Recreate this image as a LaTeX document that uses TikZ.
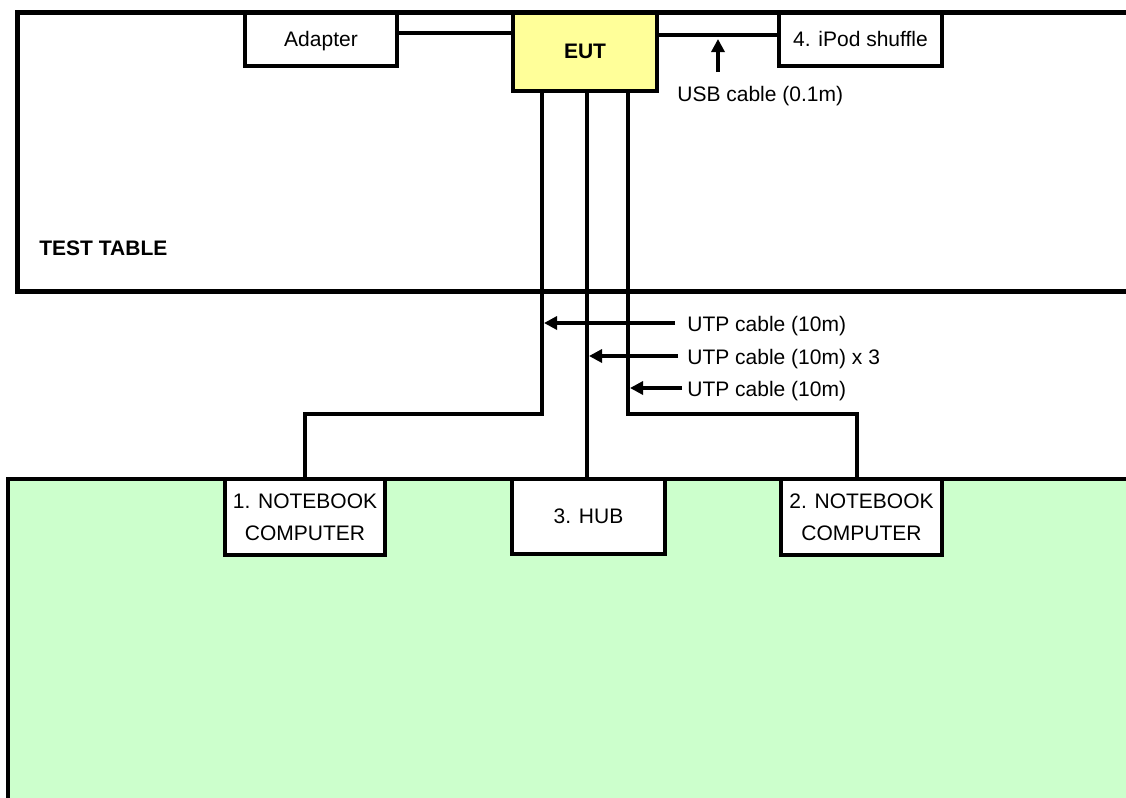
\documentclass[tikz,border=0pt]{standalone}
\usepackage{fontspec}
\setmainfont{Liberation Sans}
\usetikzlibrary{arrows.meta}
\definecolor{eutyellow}{HTML}{FFFF99}
\definecolor{floorgreen}{HTML}{CCFFCC}
\begin{document}
\begin{tikzpicture}[x=0.5pt,y=-0.5pt,
  txt/.style={font=\fontsize{10.5}{16.25}\selectfont},
  box/.style={txt, draw, line width=1.6pt, fill=white, inner sep=0pt, align=center, text depth=0pt},
  lbl/.style={txt, inner sep=0pt, anchor=west},
  wire/.style={line width=1.6pt},
  arr/.style={line width=1.6pt, -{Triangle[length=6.5pt,width=6.5pt]}},
  tableline/.style={line width=2.5pt},
  floorline/.style={line width=2pt}]
\clip (0,0) rectangle (1126,798);
\fill[white] (0,0) rectangle (1126,798);
% test table and floor areas
\fill[white] (17,12) rectangle (1140,291);
\fill[floorgreen] (8,479) rectangle (1140,810);
% equipment on the table
\node[box, minimum width=76pt, minimum height=27pt] (adapter) at (321,39) {Adapter};
\node[box, fill=eutyellow, minimum width=72pt, minimum height=39.5pt, font=\fontsize{10.5}{12}\selectfont\bfseries] (eut) at (585,51.5) {EUT};
\node[box, minimum width=81.5pt, minimum height=27pt] (ipod) at (860.5,39) {4. iPod shuffle};
% equipment on the floor
\node[box, minimum width=80pt, minimum height=38pt] (nb1) at (305,517) {1. NOTEBOOK\\COMPUTER};
\node[box, minimum width=76.5pt, minimum height=37.5pt] (hub) at (588.5,516.5) {3. HUB};
\node[box, minimum width=80.5pt, minimum height=38pt] (nb2) at (861.5,517) {2. NOTEBOOK\\COMPUTER};
% outlines
\draw[tableline] (1140,12) -- (17,12) -- (17,291) -- (1140,291);
\draw[floorline] (1140,479) -- (8,479) -- (8,810);
\node[lbl, font=\fontsize{10.5}{12}\selectfont\bfseries] (tt) at (39,248) {TEST TABLE};
% cables on the table
\coordinate (ya) at (0,33);
\coordinate (yu) at (0,35);
\draw[wire] (adapter.east |- ya) -- (eut.west |- ya);
\draw[wire] (eut.east |- yu) -- (ipod.west |- yu);
\node[lbl] (usb) at (677,96) {USB cable (0.1m)};
\coordinate (usbtail) at (718,72);
\coordinate (usbtip) at (718,39);
\draw[arr] (usbtail) -- (usbtip);
% UTP cables
\coordinate (c1) at (542,91);
\coordinate (c2) at (587,91);
\coordinate (c3) at (628,91);
\coordinate (yb) at (0,414);
\draw[wire] (c1) -- (c1 |- yb) -| (nb1.north);
\draw[wire] (c2) -- (c2 |- hub.north);
\draw[wire] (c3) -- (c3 |- yb) -| (857,479);
% cable labels
\node[lbl] (u1) at (687,326) {UTP cable (10m)};
\node[lbl] (u2) at (687,359) {UTP cable (10m) x 3};
\node[lbl] (u3) at (687,391) {UTP cable (10m)};
\coordinate (a1) at (544,323);
\coordinate (a2) at (589,356);
\coordinate (a3) at (630,388);
\draw[arr] ([xshift=-6pt]u1.west |- a1) -- (a1);
\draw[arr] ([xshift=-4.5pt]u2.west |- a2) -- (a2);
\draw[arr] ([xshift=-2.5pt]u3.west |- a3) -- (a3);
\end{tikzpicture}
\end{document}
